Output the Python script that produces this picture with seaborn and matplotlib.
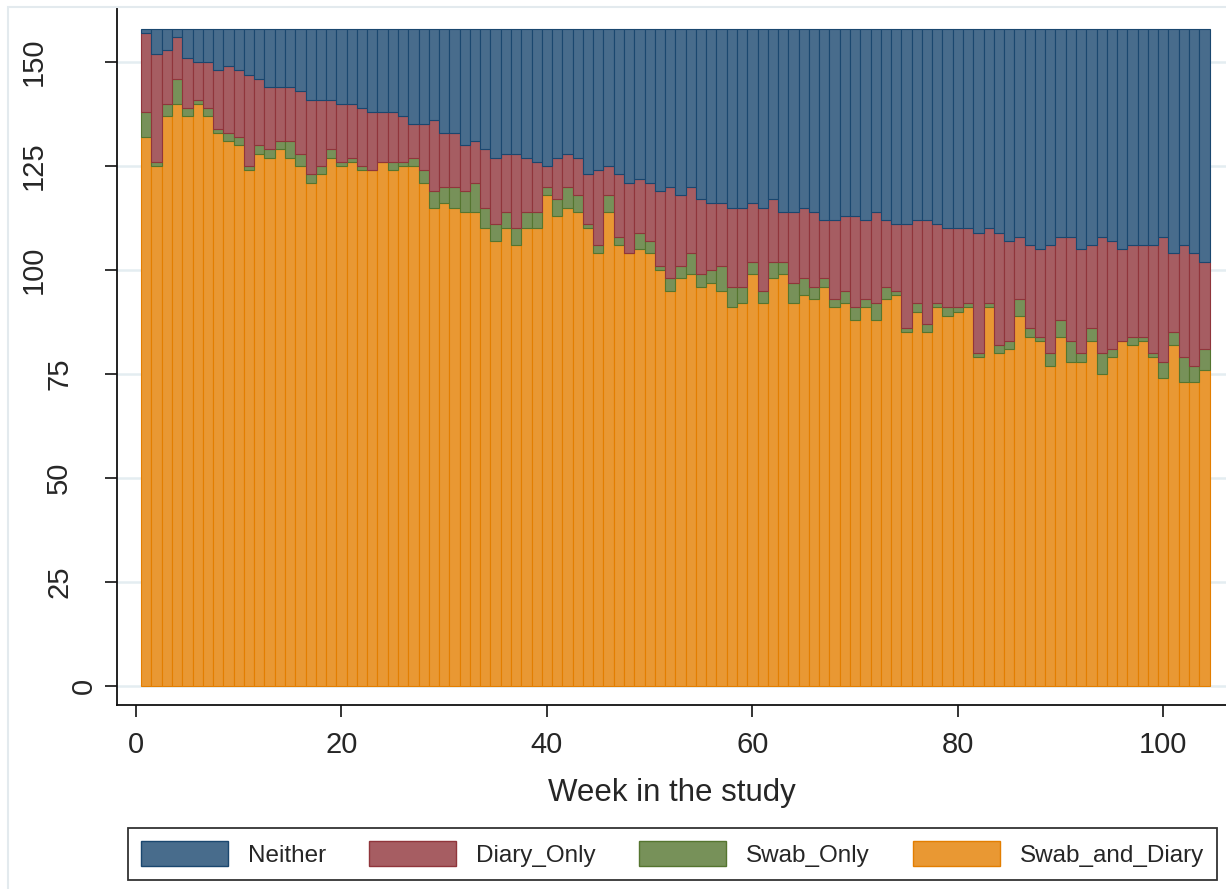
import numpy as np
import pandas as pd
import matplotlib
matplotlib.use("Agg")
import matplotlib.pyplot as plt
import matplotlib.transforms as mtransforms
import seaborn as sns
from matplotlib.patches import Patch, Rectangle
from matplotlib.colors import to_rgba

# ---------------- data ----------------
weeks = list(range(1, 105))

swab_and_diary = [132, 125, 137, 140, 137, 140, 137, 133, 131, 130, 124, 128, 127, 129, 127, 125,
                  121, 123, 127, 125, 126, 124, 124, 126, 124, 125, 125, 121, 115, 116, 115, 114,
                  114, 110, 107, 110, 106, 110, 110, 118, 113, 115, 114, 110, 104, 114, 106, 104,
                  105, 104, 100, 95, 98, 99, 96, 97, 95, 91, 92, 99, 92, 98, 99, 92,
                  94, 93, 96, 91, 92, 88, 91, 88, 93, 94, 85, 90, 85, 91, 89, 90,
                  91, 79, 91, 80, 81, 89, 84, 83, 77, 84, 78, 78, 83, 75, 79, 83,
                  82, 83, 79, 74, 82, 73, 73, 76]

swab_only = [6, 1, 3, 6, 2, 1, 2, 1, 2, 2, 1, 2, 2, 2, 4, 3,
             2, 2, 2, 1, 1, 1, 0, 0, 2, 1, 2, 3, 4, 4, 5, 5,
             7, 5, 4, 4, 4, 4, 4, 2, 4, 5, 4, 1, 2, 4, 2, 0,
             4, 3, 1, 3, 3, 5, 3, 3, 6, 5, 4, 3, 3, 4, 3, 5,
             4, 3, 2, 2, 3, 3, 2, 4, 3, 1, 1, 2, 2, 1, 2, 1,
             1, 1, 1, 2, 2, 4, 2, 1, 3, 4, 5, 2, 3, 5, 2, 0,
             2, 1, 1, 4, 3, 6, 4, 5]

diary_only = [19, 26, 13, 10, 12, 9, 11, 14, 16, 16, 22, 16, 15, 13, 13, 15,
              18, 16, 12, 14, 13, 14, 14, 12, 12, 11, 8, 11, 17, 13, 13, 11,
              10, 14, 16, 14, 18, 13, 12, 5, 10, 8, 9, 12, 18, 7, 15, 17,
              13, 14, 18, 22, 17, 16, 18, 16, 15, 19, 19, 14, 20, 15, 12, 17,
              17, 18, 14, 19, 18, 22, 19, 22, 16, 16, 25, 20, 25, 19, 19, 19,
              18, 29, 18, 27, 24, 15, 20, 21, 26, 20, 25, 25, 20, 28, 26, 22,
              22, 22, 26, 30, 19, 27, 27, 21]

neither = [1, 6, 5, 2, 7, 8, 8, 10, 9, 10, 11, 12, 14, 14, 14, 15,
           17, 17, 17, 18, 18, 19, 20, 20, 20, 21, 23, 23, 22, 25, 25, 28,
           27, 29, 31, 30, 30, 31, 32, 33, 31, 30, 31, 35, 34, 33, 35, 37,
           36, 37, 39, 38, 40, 38, 41, 42, 42, 43, 43, 42, 43, 41, 44, 44,
           43, 44, 46, 46, 45, 45, 46, 44, 46, 47, 47, 46, 46, 47, 48, 48,
           48, 49, 48, 49, 51, 50, 52, 53, 52, 50, 50, 53, 52, 50, 51, 53,
           52, 52, 52, 50, 54, 52, 54, 56]

categories = ["Neither", "Diary_Only", "Swab_Only", "Swab_and_Diary"]
x_ticks = [0, 20, 40, 60, 80, 100]
y_ticks = [0, 25, 50, 75, 100, 125, 150]
x_label = "Week in the study"

# ---------------- styles ----------------
fill_colors = {"Neither": "#486c8c", "Diary_Only": "#a65d62",
               "Swab_Only": "#779159", "Swab_and_Diary": "#e99833"}
edge_colors = {"Neither": "#1a476f", "Diary_Only": "#90353b",
               "Swab_Only": "#55752f", "Swab_and_Diary": "#e37e00"}

sns.set_theme(style="white")
plt.rcParams["font.family"] = ["Liberation Sans", "DejaVu Sans"]

df = pd.DataFrame({
    "week": weeks * 4,
    "count": neither + diary_only + swab_only + swab_and_diary,
    "status": np.repeat(categories, len(weeks)),
})

W, H = 1226, 889
fig = plt.figure(figsize=(W / 100, H / 100), dpi=100)
fig.patch.set_facecolor("white")

# faint outer graph-region border
fig.add_artist(Rectangle((8 / W, 0 - 0.01), 1.0, (H - 7) / H + 0.01,
                         transform=fig.transFigure, fill=False,
                         edgecolor="#e3eaee", linewidth=1.5))

ax = fig.add_axes([117 / W, 1 - 705 / H, 1 - 117 / W, (705 - 8) / H])

sns.histplot(data=df, x="week", weights="count", hue="status",
             hue_order=categories, multiple="stack", discrete=True,
             shrink=1, palette=fill_colors, alpha=1, linewidth=0.8,
             legend=False, ax=ax)

# per-series edge colours
fmap = {tuple(np.round(to_rgba(v), 3)): edge_colors[k] for k, v in fill_colors.items()}
for p in ax.patches:
    key = tuple(np.round(p.get_facecolor(), 3))
    if key in fmap:
        p.set_edgecolor(fmap[key])

ax.set_xlim(-1.85, 106.1)
ax.set_ylim(-4.57, 163.0)
ax.set_xticks(x_ticks)
ax.set_yticks(y_ticks)
ax.set_yticklabels([str(v) for v in y_ticks], rotation=90, va="center")
ax.set_xlabel(x_label, fontsize=22.5, labelpad=14)
ax.set_ylabel("")

ax.set_axisbelow(True)
ax.yaxis.grid(True, color="#e4edf1", linewidth=1.8)
ax.xaxis.grid(False)

for s in ["top", "right"]:
    ax.spines[s].set_visible(False)
for s in ["left", "bottom"]:
    ax.spines[s].set_color("#111111")
    ax.spines[s].set_linewidth(1.3)

ax.tick_params(axis="both", direction="out", length=8.6, width=1.2,
               color="#111111", labelsize=21, left=True, bottom=True)
ax.tick_params(axis="y", pad=5)
ax.tick_params(axis="x", pad=10)

# Stata-like placement of rotated y labels (longer labels sit further left)
for lab in ax.get_yticklabels():
    n = len(lab.get_text())
    off = mtransforms.ScaledTranslation(-(n - 1) * 0.25, 0, fig.dpi_scale_trans)
    lab.set_transform(lab.get_transform() + off)

handles = [Patch(facecolor=fill_colors[c], edgecolor=edge_colors[c], linewidth=1)
           for c in categories]
leg = fig.legend(handles, categories, loc="center",
                 bbox_to_anchor=(672.5 / W, 1 - 854 / H), ncol=4,
                 frameon=True, fancybox=False, fontsize=17.5,
                 handlelength=3.58, handleheight=1.23, handletextpad=0.82,
                 columnspacing=1.77, borderpad=0.55)
leg.get_frame().set_edgecolor("black")
leg.get_frame().set_linewidth(1.3)

fig.savefig("out.png", dpi=100, facecolor="white")
